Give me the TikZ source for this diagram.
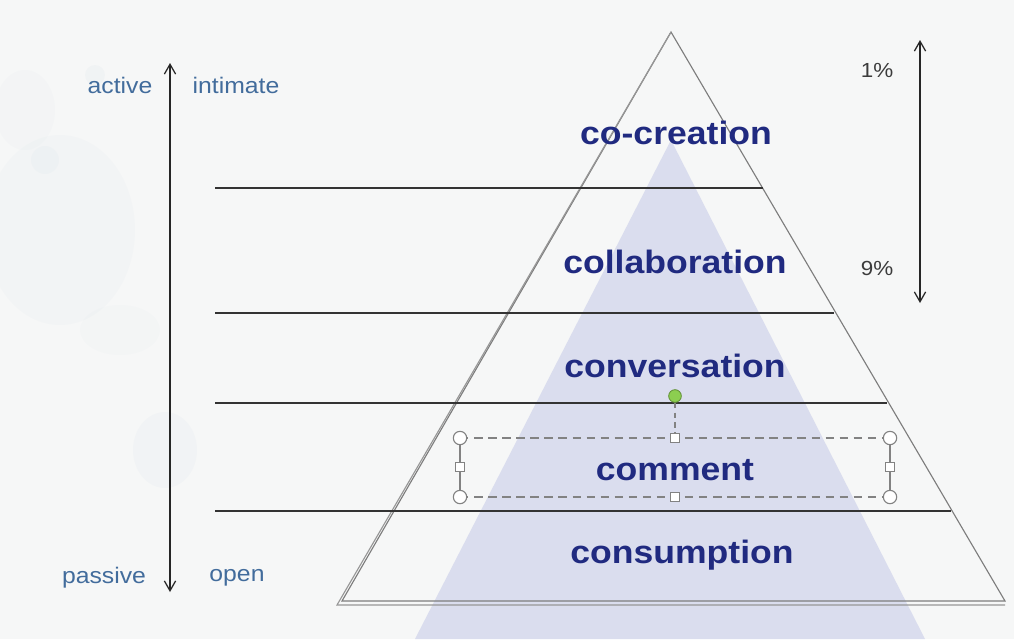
\documentclass[tikz,border=0pt]{standalone}
\usepackage{fontspec}
\setmainfont{Liberation Sans}
\usetikzlibrary{arrows.meta}

\definecolor{paper}{RGB}{246,247,247}
\definecolor{stain}{RGB}{170,195,215}
\definecolor{lav}{RGB}{218,221,238}
\definecolor{navy}{RGB}{32,42,128}
\definecolor{steel}{RGB}{66,108,156}
\definecolor{pctgray}{RGB}{60,60,60}
\definecolor{edgegray}{RGB}{125,125,125}
\definecolor{handle}{RGB}{130,130,130}
\definecolor{rotgreen}{RGB}{140,206,80}

\tikzset{
  tri/.style={draw=edgegray, line width=0.8pt, line join=miter},
  band/.style={draw=black!80, line width=0.8pt},
  layer/.style={font=\bfseries\fontsize{23}{26}\selectfont, text=navy, xscale=1.1, inner sep=0pt},
  side/.style={font=\fontsize{16}{18}\selectfont, text=steel, xscale=1.1, inner sep=0pt},
  pct/.style={font=\fontsize{14.5}{17}\selectfont, text=pctgray, xscale=1.1, inner sep=0pt},
  scalearrow/.style={draw=black!85, line width=0.8pt, {Straight Barb[length=7pt,width=8pt,line width=0.9pt]}-{Straight Barb[length=7pt,width=8pt,line width=0.9pt]}},
  selframe/.style={draw=handle, line width=0.8pt, dash pattern=on 6pt off 4pt},
  selside/.style={draw=handle, line width=0.8pt},
  cornerhandle/.style={circle, draw=handle, fill=white, line width=0.8pt, minimum size=9.5pt, inner sep=0pt},
  edgehandle/.style={rectangle, draw=handle, fill=white, line width=0.8pt, minimum size=7pt, inner sep=0pt},
  rothandle/.style={circle, draw=rotgreen!70!black, fill=rotgreen, line width=0.6pt, minimum size=9pt, inner sep=0pt},
}

\begin{document}
\begin{tikzpicture}[x=0.025cm,y=-0.025cm]
  % paper background with faint watercolour stains on the left
  \fill[paper] (0,0) rectangle (1014,639);
  \useasboundingbox (0,0) rectangle (1014,639);
  \fill[stain, opacity=0.045] (60,230) ellipse (75 and 95);
  \fill[stain, opacity=0.04] (25,110) ellipse (30 and 40);
  \fill[stain, opacity=0.07] (95,75) circle (10);
  \fill[stain, opacity=0.06] (45,160) circle (14);
  \fill[stain, opacity=0.06] (165,450) ellipse (32 and 38);
  \fill[stain, opacity=0.035] (120,330) ellipse (40 and 25);

  % inner shaded triangle
  \fill[lav] (671,140) -- (925,639) -- (415,639) -- cycle;

  % pyramid outline with a second stroke along the left edge and base
  \draw[tri] (671,32) -- (1005,601) -- (342,601) -- cycle;
  \draw[tri, draw=edgegray!80] (671,32) -- (337,605) -- (1005,605);

  % band separators, each ending on the right edge of the pyramid
  \draw[band] (215,188) -- (763,188);
  \draw[band] (215,313) -- (834,313);
  \draw[band] (215,403) -- (887,403);
  \draw[band] (215,511) -- (951,511);

  % layer labels
  \node[layer] (cocreation)    at (676,133) {co-creation};
  \node[layer] (collaboration) at (675,262) {collaboration};
  \node[layer] (conversation)  at (675,366) {conversation};
  \node[layer] (comment)       at (675,470) {comment};
  \node[layer] (consumption)   at (682,555) {consumption};

  % left scale: active/intimate to passive/open
  \coordinate (leftTop) at (170,63);
  \coordinate (leftBot) at (170,592);
  \draw[scalearrow] (leftTop) -- (leftBot);
  \node[side] (active)   at (120,85)  {active};
  \node[side] (intimate) at (236,85)  {intimate};
  \node[side] (passive)  at (104,578) {passive};
  \node[side] (open)     at (237,578) {open};

  % right scale: participation share
  \coordinate (rightTop) at (920,40);
  \coordinate (rightBot) at (920,303);
  \draw[scalearrow] (rightTop) -- (rightBot);
  \node[pct] (one)  at (877,70)  {1\%};
  \node[pct] (nine) at (877,268) {9\%};

  % selection frame around the comment label
  \coordinate (tl) at (460,438);
  \coordinate (tr) at (890,438);
  \coordinate (bl) at (460,497);
  \coordinate (br) at (890,497);
  \draw[selframe] (tl) -- (tr);
  \draw[selframe] (bl) -- (br);
  \draw[selside] (tl) -- (bl);
  \draw[selside] (tr) -- (br);
  \node[rothandle] (rot) at (675,396) {};
  \node[edgehandle] (topMid) at (675,438) {};
  \draw[selframe, dash pattern=on 4pt off 3pt] (rot) -- (topMid);
  \node[edgehandle] (botMid)   at (675,497) {};
  \node[edgehandle] (leftMid)  at (460,467) {};
  \node[edgehandle] (rightMid) at (890,467) {};
  \node[cornerhandle] (cTL) at (tl) {};
  \node[cornerhandle] (cTR) at (tr) {};
  \node[cornerhandle] (cBL) at (bl) {};
  \node[cornerhandle] (cBR) at (br) {};
\end{tikzpicture}
\end{document}
